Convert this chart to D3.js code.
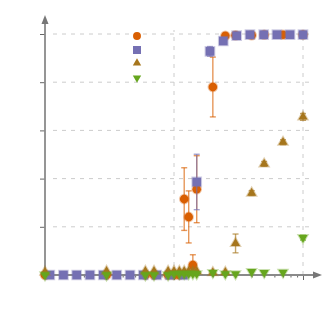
<!DOCTYPE html>
<html>
<head>
<meta charset="utf-8">
<script src="https://cdn.jsdelivr.net/npm/d3@7"></script>
<style>
  body { margin: 0; background: #fff; }
</style>
</head>
<body>
<svg id="chart"></svg>
<script>
// x values shared by the orange, brown and green series
const xShared = [0.01, 0.03, 0.06, 0.07, 0.09, 0.1, 0.11, 0.12, 0.13, 0.14, 0.15, 0.2, 0.25, 0.3, 0.4, 0.5, 0.7, 1.0];
const orangeY   = [0, 0, 0, 0, 0, 0, 0, 0.315, 0.241, 0.041, 0.356, 0.78, 0.993, 0.995, 0.995, 0.997, 0.997, 0.997];
const orangeErr = [0, 0, 0, 0, 0, 0, 0, 0.13, 0.108, 0.043, 0.139, 0.124, 0, 0, 0, 0, 0, 0];
const brownY    = [0.012, 0.015, 0.015, 0.015, 0.015, 0.015, 0.015, 0.015, 0.015, 0.015, 0.015, 0.01, 0.011, 0.131, 0.34, 0.461, 0.551, 0.656];
const brownErr  = [0, 0, 0, 0, 0, 0, 0, 0, 0, 0, 0, 0, 0, 0.039, 0.01, 0.01, 0.01, 0.014];
const greenY    = [0, 0, 0, 0, 0, 0.005, 0.005, 0.005, 0.005, 0.005, 0.005, 0.01, 0.005, 0.005, 0.014, 0.01, 0.011, 0.155];
const greenErr  = [0, 0, 0, 0, 0, 0, 0, 0, 0, 0, 0, 0, 0, 0, 0, 0, 0, 0.01];

// purple series has its own x grid
const xPurple   = [0.0109, 0.0139, 0.0176, 0.0223, 0.0283, 0.036, 0.0456, 0.0578, 0.0734, 0.0931, 0.118, 0.15, 0.19, 0.241, 0.306, 0.388, 0.496, 0.628, 0.793, 1.0];
const purpleY   = [0, 0, 0, 0, 0, 0, 0, 0, 0, 0, 0, 0.386, 0.928, 0.971, 0.993, 0.997, 0.997, 0.997, 0.997, 0.997];
const purpleErr = [0, 0, 0, 0, 0, 0, 0, 0, 0, 0, 0, 0.115, 0.02, 0, 0, 0, 0, 0, 0, 0];

const yTicks = [0, 0.2, 0.4, 0.6, 0.8, 1.0];
const xGrid = [0.1, 1];

const width = 334, height = 314;
const margin = {top: 34, right: 31, bottom: 39, left: 45};
const innerW = width - margin.left - margin.right;
const innerH = height - margin.top - margin.bottom;

const svg = d3.select('#chart').attr('width', width).attr('height', height);
const chart = svg.append('g').attr('transform', `translate(${margin.left}, ${margin.top})`);

const x = d3.scaleLog().domain([0.01, 1]).range([0, innerW]);
const y = d3.scaleLinear().domain([0, 1]).range([innerH, 0]);

// grid
chart.append('g')
  .selectAll('line').data(yTicks.slice(1)).join('line')
  .attr('x1', 8).attr('x2', innerW + 7)
  .attr('y1', d => y(d)).attr('y2', d => y(d))
  .attr('stroke', '#ccc').attr('stroke-width', 1).attr('stroke-dasharray', '4,5');

chart.append('g')
  .selectAll('line').data(xGrid).join('line')
  .attr('x1', d => x(d)).attr('x2', d => x(d))
  .attr('y1', innerH).attr('y2', -4)
  .attr('stroke', '#ccc').attr('stroke-width', 1).attr('stroke-dasharray', '4,5');

// axes
const axisColor = '#8a8a8a';
const yAxis = chart.append('g').call(d3.axisLeft(y).tickValues(yTicks.slice(1)).tickSize(5).tickFormat(''));
const xMinor = chart.append('g').attr('transform', `translate(0, ${innerH})`)
  .call(d3.axisBottom(x).tickValues(x.ticks()).tickSize(2.5).tickFormat(''));
const xMajor = chart.append('g').attr('transform', `translate(0, ${innerH})`)
  .call(d3.axisBottom(x).tickValues(xGrid).tickSize(5).tickFormat(''));
[yAxis, xMinor, xMajor].forEach(g => {
  g.select('.domain').remove();
  g.selectAll('line').attr('stroke', '#666').attr('stroke-width', 1);
});

// axis lines with arrows
chart.append('line')
  .attr('x1', 0).attr('x2', 0).attr('y1', innerH + 2).attr('y2', -12)
  .attr('stroke', axisColor).attr('stroke-width', 1.8);
chart.append('path')
  .attr('d', `M0,${-19} L-3.5,${-10} L3.5,${-10} Z`)
  .attr('fill', '#777');
chart.append('line')
  .attr('x1', 0).attr('x2', innerW + 12).attr('y1', innerH).attr('y2', innerH)
  .attr('stroke', axisColor).attr('stroke-width', 1.8);
chart.append('path')
  .attr('d', `M${innerW + 19},${innerH} L${innerW + 10},${innerH - 3.5} L${innerW + 10},${innerH + 3.5} Z`)
  .attr('fill', '#777');

// series
const series = [
  {xs: xShared, ys: orangeY, es: orangeErr, color: '#d95f02', symbol: d3.symbolCircle, size: 58, rot: 0},
  {xs: xPurple, ys: purpleY, es: purpleErr, color: '#7570b3', symbol: d3.symbolSquare, size: 76, rot: 0},
  {xs: xShared, ys: brownY, es: brownErr, color: '#a6761d', symbol: d3.symbolTriangle, size: 36, rot: 0},
  {xs: xShared, ys: greenY, es: greenErr, color: '#66a61e', symbol: d3.symbolTriangle, size: 36, rot: 180}
];

series.forEach(s => {
  const pts = s.xs.map((v, i) => ({x: v, y: s.ys[i], e: s.es[i]}));
  const g = chart.append('g');
  const eb = g.append('g').attr('stroke', s.color).attr('stroke-opacity', 0.65).attr('stroke-width', 1.4);
  const withErr = pts.filter(d => d.e > 0);
  eb.selectAll('.v').data(withErr).join('line')
    .attr('x1', d => x(d.x)).attr('x2', d => x(d.x))
    .attr('y1', d => y(d.y - d.e)).attr('y2', d => y(d.y + d.e));
  eb.selectAll('.t').data(withErr).join('line')
    .attr('x1', d => x(d.x) - 3).attr('x2', d => x(d.x) + 3)
    .attr('y1', d => y(d.y + d.e)).attr('y2', d => y(d.y + d.e));
  eb.selectAll('.b').data(withErr).join('line')
    .attr('x1', d => x(d.x) - 3).attr('x2', d => x(d.x) + 3)
    .attr('y1', d => y(d.y - d.e)).attr('y2', d => y(d.y - d.e));
  g.selectAll('path.m').data(pts).join('path')
    .attr('class', 'm')
    .attr('d', d3.symbol().type(s.symbol).size(s.size))
    .attr('transform', d => `translate(${x(d.x)}, ${y(d.y)}) rotate(${s.rot})`)
    .attr('fill', s.color)
    .attr('stroke', s.color).attr('stroke-opacity', 0.35).attr('stroke-width', 2);
});

// legend (markers only)
const legendY = [36, 50, 63, 78];
series.forEach((s, i) => {
  svg.append('path')
    .attr('d', d3.symbol().type(s.symbol).size(s.size * 0.85))
    .attr('transform', `translate(137, ${legendY[i]}) rotate(${s.rot})`)
    .attr('fill', s.color);
});
</script>
</body>
</html>
